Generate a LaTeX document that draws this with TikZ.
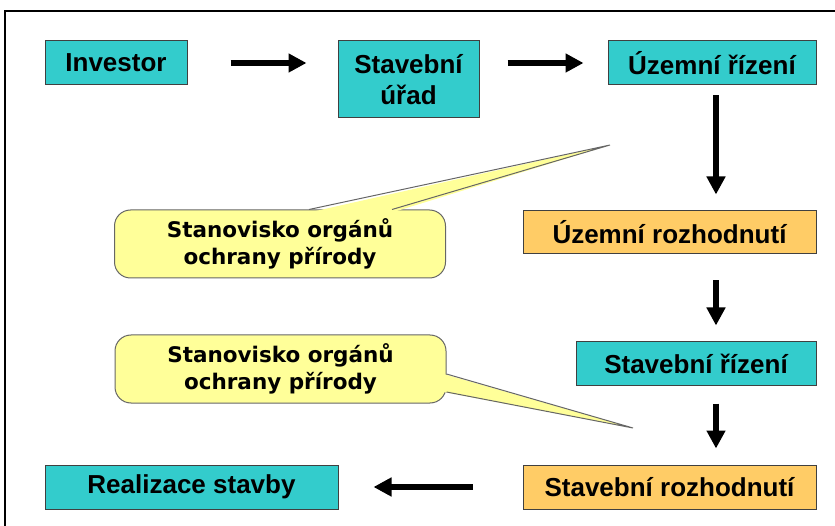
\documentclass[tikz,border=0pt]{standalone}
\usepackage{fontspec}
\setmainfont{Liberation Sans}
\newfontfamily\bublinafont{DejaVu Sans}
\usepackage{tikz}
\usepackage{xcolor}
\usetikzlibrary{arrows.meta}
\definecolor{tyrkys}{HTML}{33CCCC}
\definecolor{oranz}{HTML}{FFCC66}
\definecolor{zluta}{HTML}{FFFF99}
\definecolor{okraj}{HTML}{404040}
\tikzset{
Krabice/.style={
 draw=okraj, 
 line width=1pt, 
 inner sep=0pt, 
 align=center, 
 font=\fontsize{26}{31}\selectfont\bfseries
 },
ModraKrabice/.style={
 Krabice, 
 fill=tyrkys
 },
OranzKrabice/.style={
 Krabice, 
 fill=oranz
 },
Bublina/.style={
 draw=okraj!80, 
 line width=1pt, 
 fill=zluta, 
 rounded corners=16pt, 
 inner sep=0pt, 
 align=center, 
 minimum width=331pt, 
 minimum height=68pt, 
 font=\bublinafont\fontsize{21.5}{27}\selectfont\bfseries
 },
BublinaSpicka/.style={
 fill=zluta
 },
BublinaOkraj/.style={
 draw=okraj!80, 
 line width=1pt, 
 line join=miter
 },
Sipka/.style={
 draw=black, 
 line width=6pt, 
 -{Triangle[length=18pt,width=18pt]}
 }
}
\begin{document}
\begin{tikzpicture}[x=1pt,y=-1pt]
\useasboundingbox (0,0) rectangle (835,526);
\draw[line width=2pt] (5,11) rectangle (850,545);
% krabice
\node[ModraKrabice,minimum width=142pt,minimum height=44pt] (investor) at (116,63) {Investor};
\node[ModraKrabice,minimum width=141pt,minimum height=77pt] (stavurad) at (408.5,79.5) {Stavební\\úřad};
\node[ModraKrabice,minimum width=208pt,minimum height=44pt] (uzrizeni) at (712,63) {Územní řízení};
\node[OranzKrabice,minimum width=293pt,minimum height=43pt] (uzrozh) at (669.5,232.5) {Územní rozhodnutí};
\node[ModraKrabice,minimum width=240pt,minimum height=43pt] (stavriz) at (696,363.5) {Stavební řízení};
\node[OranzKrabice,minimum width=293pt,minimum height=44pt] (stavrozh) at (669.5,487) {Stavební rozhodnutí};
\node[ModraKrabice,minimum width=293pt,minimum height=44pt] (realizace) at (191.5,487) {Realizace stavby};
% sipky
\coordinate (sloupec) at (716,0);
\draw[Sipka,shorten <=43pt,shorten >=31pt] (investor) -- (investor -| stavurad.west);
\draw[Sipka,shorten <=28pt,shorten >=24pt] (stavurad.east |- uzrizeni) -- (uzrizeni.west);
\draw[Sipka,shorten <=10pt,shorten >=16pt] (uzrizeni.south -| sloupec) -- (uzrozh.north -| sloupec);
\draw[Sipka,shorten <=26pt,shorten >=16pt] (uzrozh.south -| sloupec) -- (stavriz.north -| sloupec);
\draw[Sipka,shorten <=18pt,shorten >=16pt] (stavriz.south -| sloupec) -- (stavrozh.north -| sloupec);
\draw[Sipka,shorten <=50pt,shorten >=35pt] (stavrozh.west) -- (realizace.east);
% bubliny
\node[Bublina] (bublina1) at (280,244) {Stanovisko orgánů\\ochrany přírody};
\coordinate (spicka1) at (610,145);
\fill[BublinaSpicka] ([xshift=29pt,yshift=-3pt]bublina1.north) -- (spicka1) -- ([xshift=112pt,yshift=-3pt]bublina1.north) -- cycle;
\draw[BublinaOkraj] ([xshift=29pt]bublina1.north) -- (spicka1) -- ([xshift=112pt]bublina1.north);
\node[Bublina] (bublina2) at (280.5,369) {Stanovisko orgánů\\ochrany přírody};
\coordinate (spicka2) at (633,428);
\fill[BublinaSpicka] ([xshift=-3pt,yshift=-5pt]bublina2.east) -- (spicka2) -- ([xshift=-3pt,yshift=-23pt]bublina2.east) -- cycle;
\draw[BublinaOkraj] ([yshift=-5pt]bublina2.east) -- (spicka2) -- ([yshift=-23pt]bublina2.east);
\end{tikzpicture}
\end{document}
